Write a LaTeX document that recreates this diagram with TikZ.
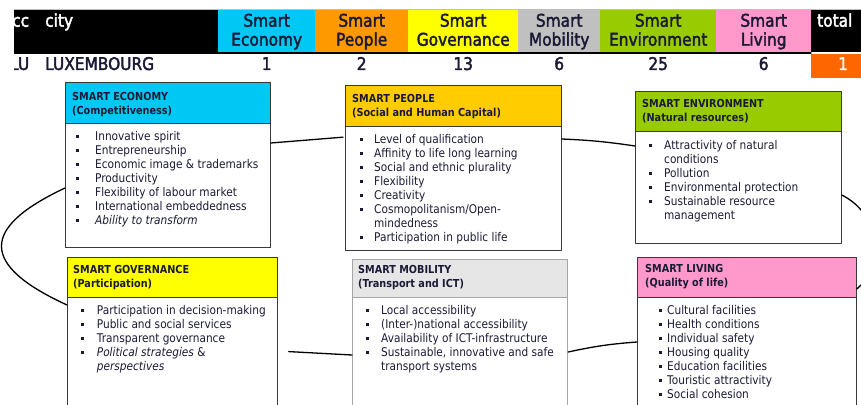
\documentclass[tikz,border=0pt]{standalone}
\usepackage{fontspec}
\newfontfamily\bodyfnt{DejaVu Sans}[FakeStretch=0.88]
\newfontfamily\headfnt{DejaVu Sans}[FakeStretch=0.88,FakeBold=2.2]
\definecolor{ink}{HTML}{1A1A36}
\definecolor{boxline}{HTML}{3A3A3A}
\definecolor{ecocol}{HTML}{00C8F5}
\definecolor{peocol}{HTML}{FFCC00}
\definecolor{orgcol}{HTML}{FF9900}
\definecolor{govcol}{HTML}{FFFF00}
\definecolor{mobcol}{HTML}{E6E6E6}
\definecolor{mobtab}{HTML}{C0C0C0}
\definecolor{envcol}{HTML}{99CC00}
\definecolor{livcol}{HTML}{FF99CC}
\definecolor{totcol}{HTML}{FF6600}
\newlength\bgap
\newcommand\bl{\makebox[\bgap][l]{\rule[2.4pt]{3pt}{3pt}}}
\newcommand\cn{\hspace*{\bgap}}
\usetikzlibrary{positioning}
\begin{document}
\begin{tikzpicture}[x=1pt,y=-1pt, line join=round, line cap=round,
	cell/.style={inner sep=0pt, anchor=north west, minimum height=42pt},
	hd/.style={font=\headfnt\fontsize{17.5}{19}\selectfont, text=ink, align=center, anchor=base, inner sep=0pt},
	boxfr/.style={draw=boxline, line width=0.8pt, inner sep=0pt, anchor=north west},
	ttl/.style={font=\bodyfnt\bfseries\fontsize{11}{13.8}\selectfont, text=ink, align=left, anchor=base west, inner sep=0pt},
	lst/.style={font=\bodyfnt\fontsize{12}{14.1}\selectfont, text=ink, align=left, anchor=base west, inner sep=0pt,
		execute at begin node={\setlength{\bgap}{#1}}},
	link/.style={line width=1.3pt, black}]
	%	\draw[color=gray!50,dashed] (0,0) grid[step=50] (861,404);
	% base of a many-line node sits on its last line
	\useasboundingbox (0,0) rectangle (861,404);
	\clip (0,0) rectangle (861,404);
	% table
	\begin{scope}
		\clip (14,0) rectangle (861,85);
		\draw[gray!50, line width=0.6pt] (14,9.5) -- (861,9.5);
		\node[cell, fill=black, minimum width=204pt] (ckey) at (14,10) {};
		\node[cell, fill=ecocol, minimum width=97pt] (ceco) at (218,10) {};
		\node[cell, fill=orgcol, minimum width=93pt] (cpeo) at (315,10) {};
		\node[cell, fill=govcol, minimum width=110pt] (cgov) at (408,10) {};
		\node[cell, fill=mobtab, minimum width=82pt] (cmob) at (518,10) {};
		\node[cell, fill=envcol, minimum width=116pt] (cenv) at (600,10) {};
		\node[cell, fill=livcol, minimum width=95pt] (cliv) at (716,10) {};
		\node[cell, fill=black, minimum width=50pt] (ctot) at (811,10) {};
		\draw[line width=1.2pt] (14,53) -- (811,53);
		\node[cell, fill=totcol, minimum width=50pt, minimum height=24pt] (vtot) at (811,54) {};
		\node[hd, anchor=base west, text=white] (tcc) at (12,26.7) {cc};
		\node[hd, anchor=base west, text=white] (tcity) at (45,26.7) {city};
		\node[hd] (teco) at (ceco.north |- 0,45.7) {Smart\\Economy};
		\node[hd] (tpeo) at (cpeo.north |- 0,45.7) {Smart\\People};
		\node[hd] (tgov) at (cgov.north |- 0,45.7) {Smart\\Governance};
		\node[hd] (tmob) at (cmob.north |- 0,45.7) {Smart\\Mobility};
		\node[hd] (tenv) at (cenv.north |- 0,45.7) {Smart\\Environment};
		\node[hd] (tliv) at (cliv.north |- 0,45.7) {Smart\\Living};
		\node[hd, anchor=base west, text=white] (ttot) at (817,26.7) {total};
		\node[hd, anchor=base west] (tlu) at (10,70) {LU};
		\node[hd, anchor=base west] (tcity2) at (45,70) {LUXEMBOURG};
		\node[hd] (neco) at (teco |- 0,70) {1};
		\node[hd] (npeo) at (tpeo |- 0,70) {2};
		\node[hd] (ngov) at (tgov |- 0,70) {13};
		\node[hd] (nmob) at (tmob |- 0,70) {6};
		\node[hd] (nenv) at (tenv |- 0,70) {25};
		\node[hd] (nliv) at (tliv |- 0,70) {6};
		\node[hd, text=white] (ntot) at (843,70) {1};
	\end{scope}
	% boxes
	\node[boxfr, minimum width=205pt, minimum height=165pt] (eco) at (65,82) {};
	\node[boxfr, fill=ecocol, minimum width=205pt, minimum height=41pt] (ecohd) at (eco.north west) {};
	\node[ttl] (ecot) at (72,114.5) {SMART ECONOMY\\(Competitiveness)};
	\node[lst=19pt] (ecol) at (76,{140+6*14.1}) {\bl Innovative spirit\\ \bl Entrepreneurship\\ \bl Economic image \& trademarks\\
		\bl Productivity\\ \bl Flexibility of labour market\\ \bl International embeddedness\\ \bl \textit{Ability to transform}};
	\node[boxfr, minimum width=216pt, minimum height=165pt] (peo) at (345,85) {};
	\node[boxfr, fill=peocol, minimum width=216pt, minimum height=41pt] (peohd) at (peo.north west) {};
	\node[ttl] (peot) at (352,116.5) {SMART PEOPLE\\(Social and Human Capital)};
	\node[lst=14pt] (peol) at (360,{143+7*14.1}) {\bl Level of qualification\\ \bl Affinity to life long learning\\ \bl Social and ethnic plurality\\
		\bl Flexibility\\ \bl Creativity\\ \bl Cosmopolitanism/Open-\\ \cn mindedness\\ \bl Participation in public life};
	\node[boxfr, minimum width=206pt, minimum height=152pt] (env) at (635,91) {};
	\node[boxfr, fill=envcol, minimum width=206pt, minimum height=40pt] (envhd) at (env.north west) {};
	\node[ttl] (envt) at (642,121.1) {SMART ENVIRONMENT\\(Natural resources)};
	\node[lst=15pt] (envl) at (649,{149+5*14.1}) {\bl Attractivity of natural\\ \cn conditions\\ \bl Pollution\\ \bl Environmental protection\\
		\bl Sustainable resource\\ \cn management};
	\node[boxfr, minimum width=210pt, minimum height=170pt] (gov) at (67,257) {};
	\node[boxfr, fill=govcol, minimum width=210pt, minimum height=40pt] (govhd) at (gov.north west) {};
	\node[ttl] (govt) at (73,287.1) {SMART GOVERNANCE\\(Participation)};
	\node[lst=15.7pt] (govl) at (81,{314.3+4*14.1}) {\bl Participation in decision-making\\ \bl Public and social services\\ \bl Transparent governance\\
		\bl \textit{Political strategies} \&\\ \cn \textit{perspectives}};
	\node[boxfr, draw=gray!70, line width=1.2pt, minimum width=215pt, minimum height=170pt] (mob) at (352,259) {};
	\node[boxfr, draw=gray!70, line width=1.2pt, fill=mobcol, minimum width=215pt, minimum height=38pt] (mobhd) at (mob.north west) {};
	\node[ttl] (mobt) at (358,287.1) {SMART MOBILITY\\(Transport and ICT)};
	\node[lst=15pt] (mobl) at (366,{314.3+4*14.1}) {\bl Local accessibility\\ \bl (Inter-)national accessibility\\ \bl Availability of ICT-infrastructure\\
		\bl Sustainable, innovative and safe\\ \cn transport systems};
	\node[boxfr, minimum width=219pt, minimum height=170pt] (liv) at (637,257) {};
	\node[boxfr, fill=livcol, minimum width=219pt, minimum height=40pt] (livhd) at (liv.north west) {};
	\node[ttl] (livt) at (645,286.1) {SMART LIVING\\(Quality of life)};
	\node[lst=8pt] (livl) at (659,{314+6*14.1}) {\bl Cultural facilities\\ \bl Health conditions\\ \bl Individual safety\\ \bl Housing quality\\
		\bl Education facilities\\ \bl Touristic attractivity\\ \bl Social cohesion};
	% ring of links
	\draw[link, shorten >=2pt] ([yshift=-61pt]eco.north east) -- ([yshift=-52pt]peo.north west);
	\draw[link] ([yshift=-54pt]peo.north east) to[bend left=3] ([yshift=-55pt]env.north west);
	\draw[link] ([yshift=-104pt]env.north east) .. controls (885,217) and (880,270) .. ([yshift=-32pt]liv.north east);
	\draw[link] ([yshift=-85pt]liv.north west) to[bend right=4] ([yshift=-93pt]mob.north east);
	\draw[link, shorten >=11pt] ([yshift=-96pt]mob.north west) -- ([yshift=-94pt]gov.north east);
	\draw[link] ([yshift=-48pt]gov.north west) .. controls (-20,265) and (-20,228) .. ([yshift=-106pt]eco.north west);
\end{tikzpicture}
\end{document}
